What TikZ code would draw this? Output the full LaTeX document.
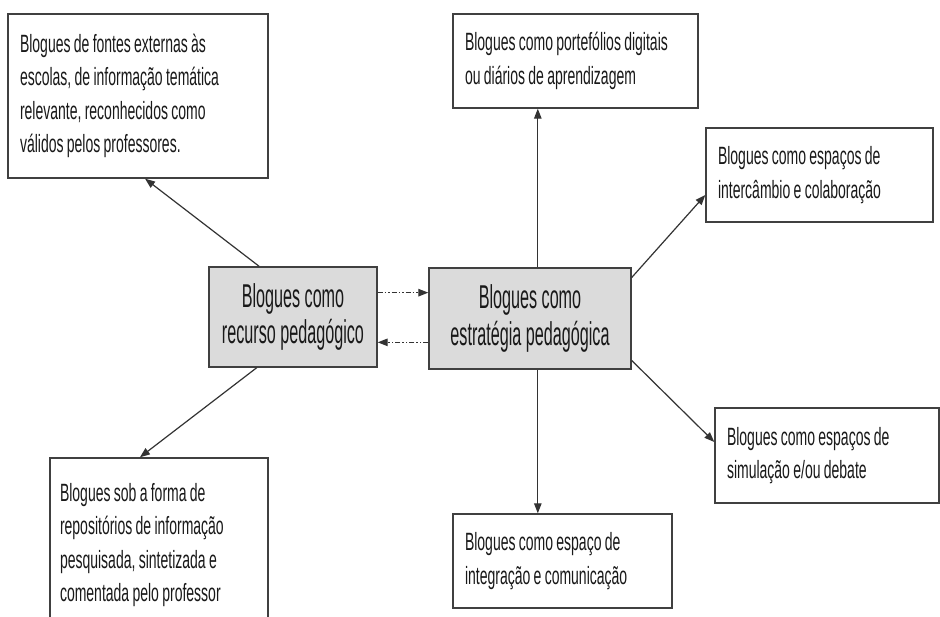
\documentclass[tikz,border=0pt]{standalone}
\usepackage{fontspec}
\setmainfont{Liberation Sans}
\newfontfamily\boxfont{Liberation Sans}[FakeStretch=0.56, WordSpace={0.85,0,0}]
\newfontfamily\corefont{Liberation Sans}[FakeStretch=0.49]
\usetikzlibrary{arrows.meta,calc,shadows}
\begin{document}
\begin{tikzpicture}[x=1pt,y=-1pt,
  box/.style={draw=black!75, line width=1.4pt, fill=white, inner xsep=12pt, inner ysep=0pt,
    align=flush left, font=\boxfont\fontsize{25}{33.5}\selectfont, text=black!90,
    drop shadow={shadow xshift=1pt, shadow yshift=-1.2pt, fill=black!45, opacity=1}},
  core/.style={draw=black!75, line width=1.4pt, fill=black!14, inner sep=0pt, align=center,
    font=\corefont\fontsize{33}{36.5}\selectfont, text=black!90,
    drop shadow={shadow xshift=1pt, shadow yshift=-1.2pt, fill=black!45, opacity=1}},
  arr/.style={draw=black!80, line width=1.2pt, -{Triangle[length=10pt,width=7.5pt]}},
  darr/.style={arr, dash pattern=on 5pt off 2pt on 1.5pt off 2pt on 1.5pt off 2pt}]
\useasboundingbox (0,0) rectangle (940,617);
\clip (0,0) rectangle (940,617);
\fill[white] (0,0) rectangle (940,617);

\node[box, minimum width=260pt, text width=236pt, minimum height=164pt] (A) at (138,96)
  {Blogues de fontes externas às\\escolas, de informação temática\\relevante, reconhecidos como\\válidos pelos professores.};
\node[box, minimum width=245pt, text width=221pt, minimum height=94pt] (P) at (575.5,61)
  {Blogues como portefólios digitais\\ou diários de aprendizagem};
\node[box, minimum width=227pt, text width=203pt, minimum height=94pt] (I) at (819.5,175)
  {Blogues como espaços de\\intercâmbio e colaboração};
\node[box, minimum width=224pt, text width=200pt, minimum height=95pt] (D) at (827,455.5)
  {Blogues como espaços de\\simulação e/ou debate};
\node[box, minimum width=219pt, text width=195pt, minimum height=94pt] (C) at (562.5,561)
  {Blogues como espaço de\\integração e comunicação};
\node[box, inner xsep=10pt, minimum width=218pt, text width=198pt, minimum height=174pt] (F) at (159,545)
  {Blogues sob a forma de\\repositórios de informação\\pesquisada, sintetizada e\\comentada pelo professor};

\node[core, minimum width=168pt, minimum height=100pt] (R) at (293,317)
  {Blogues como\\recurso pedagógico};
\node[core, minimum width=202pt, minimum height=101pt] (S) at (530,318.5)
  {Blogues como\\estratégia pedagógica};

% connectors from R
\coordinate (rA) at ($(R.north west)!0.30!(R.north east)$);
\coordinate (aB) at ($(A.south west)!0.527!(A.south east)$);
\draw[arr] (rA) -- (aB);
\coordinate (rF) at ($(R.south west)!0.286!(R.south east)$);
\coordinate (fT) at ($(F.north west)!0.413!(F.north east)$);
\draw[arr] (rF) -- (fT);

% dashed connectors between R and S
\coordinate (rs1) at ($(R.north east)!0.26!(R.south east)$);
\coordinate (rs2) at ($(R.north east)!0.75!(R.south east)$);
\draw[darr] (rs1) -- (rs1 -| S.west);
\draw[darr] (rs2 -| S.west) -- (rs2);

% connectors from S
\coordinate (pB) at ($(P.south west)!0.347!(P.south east)$);
\draw[arr] (S.north -| pB) -- (pB);
\coordinate (cT) at ($(C.north west)!0.388!(C.north east)$);
\draw[arr] (S.south -| cT) -- (cT);
\coordinate (sI) at ($(S.north east)!0.10!(S.south east)$);
\coordinate (iW) at ($(I.north west)!0.71!(I.south west)$);
\draw[arr] (sI) -- (iW);
\coordinate (sD) at ($(S.north east)!0.91!(S.south east)$);
\coordinate (dW) at ($(D.north west)!0.36!(D.south west)$);
\draw[arr] (sD) -- (dW);
\end{tikzpicture}
\end{document}
